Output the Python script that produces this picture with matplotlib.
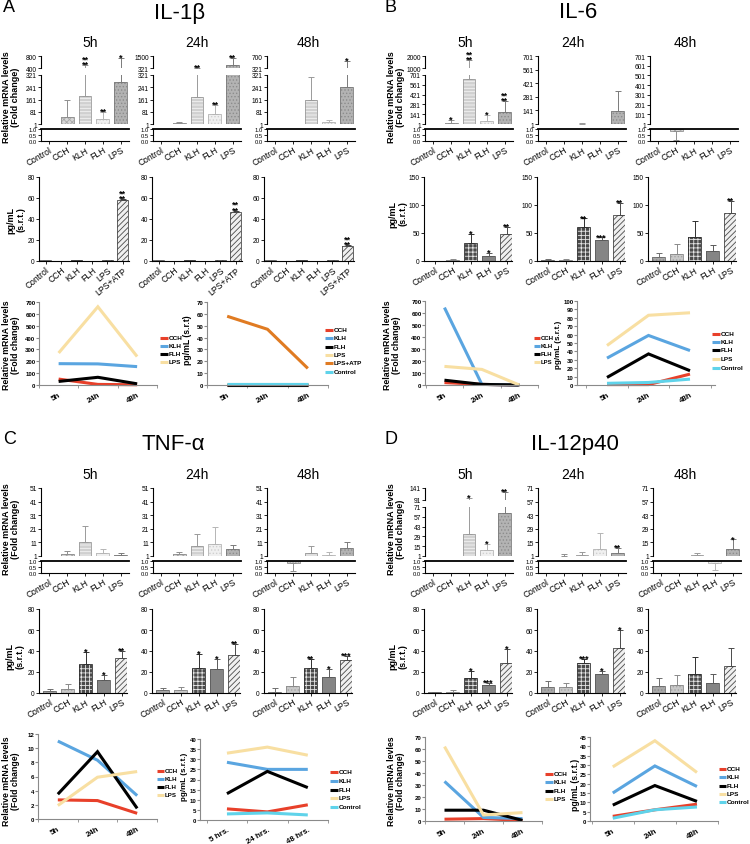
import numpy as np
import matplotlib
matplotlib.use("Agg")
import matplotlib.pyplot as plt

plt.rcParams['font.family'] = ['Liberation Sans', 'DejaVu Sans']
plt.rcParams['hatch.linewidth'] = 0.6

# ---------------- data ----------------
CATS = ["Control", "CCH", "KLH", "FLH", "LPS"]
CATS_ATP = ["Control", "CCH", "KLH", "FLH", "LPS", "LPS+ATP"]
TIMES = ["5h", "24h", "48h"]
TIMES_HRS = ["5 hrs.", "24 hrs.", "48 hrs."]

# ---- IL-1beta mRNA (fold change) ----
IL1B_MRNA_5H = [1, 47, 184, 34, 275]
IL1B_MRNA_5H_ERR = [0, 110, 316, 45, 458]
IL1B_MRNA_5H_SIG = ["", "", "**\n**", "**", "*"]
IL1B_MRNA_24H = [1, 5, 178, 66, 660]
IL1B_MRNA_24H_ERR = [0, 9, 152, 60, 640]
IL1B_MRNA_24H_SIG = ["", "", "**", "**", "**"]
IL1B_MRNA_48H = [1, 3, 160, 14, 245]
IL1B_MRNA_48H_ERR = [0, 0, 145, 13, 297]
IL1B_MRNA_48H_SIG = ["", "", "", "", "*"]
IL1B_MRNA_TICKS = [1, 81, 161, 241, 321]
IL1B_MRNA_TOP_5H = [400, 800]
IL1B_MRNA_TOP_24H = [321, 1500]
IL1B_MRNA_TOP_48H = [321, 700]

# ---- IL-1beta protein (pg/mL) ----
IL1B_PROT_5H = [1, 0.4, 0.5, 0.3, 0.5, 58]
IL1B_PROT_5H_ERR = [0.3, 0, 0, 0, 0, 1]
IL1B_PROT_5H_SIG = ["", "", "", "", "", "**\n**"]
IL1B_PROT_24H = [1, 0.4, 0.5, 0.3, 0.5, 47]
IL1B_PROT_24H_ERR = [0.3, 0, 0, 0, 0, 1]
IL1B_PROT_24H_SIG = ["", "", "", "", "", "**\n**"]
IL1B_PROT_48H = [1, 0.4, 0.5, 0.3, 0.5, 14]
IL1B_PROT_48H_ERR = [0.3, 0, 0, 0, 0, 1]
IL1B_PROT_48H_SIG = ["", "", "", "", "", "**\n**"]
IL1B_PROT_TICKS = [0, 20, 40, 60, 80]

# ---- IL-6 mRNA ----
IL6_MRNA_5H = [1, 20, 645, 40, 166]
IL6_MRNA_5H_ERR = [0, 36, 1020, 84, 164]
IL6_MRNA_5H_SIG = ["", "*", "**\n**", "*", "**\n**"]
IL6_MRNA_24H = [1, 3, 6, 3, 135]
IL6_MRNA_24H_ERR = [0, 0, 4, 0, 210]
IL6_MRNA_24H_SIG = ["", "", "", "", ""]
IL6_MRNA_48H = [1, 0.85, 2, 2, 2]
IL6_MRNA_48H_ERR = [0, 0.75, 0, 0, 0]
IL6_MRNA_48H_SIG = ["", "", "", "", ""]
IL6_MRNA_TICKS = [1, 141, 281, 421, 561, 701]
IL6_MRNA_TICKS_48H = [1, 101, 201, 301, 401, 501, 601, 701]
IL6_MRNA_TOP_5H = [1000, 2000]

# ---- IL-6 protein ----
IL6_PROT_5H = [0.5, 2, 33, 9, 48]
IL6_PROT_5H_ERR = [0.3, 2, 16, 6, 13]
IL6_PROT_5H_SIG = ["", "", "*", "*", "**"]
IL6_PROT_24H = [2, 2, 60, 37, 83]
IL6_PROT_24H_ERR = [1, 1, 16, 5, 21]
IL6_PROT_24H_SIG = ["", "", "**", "***", "**"]
IL6_PROT_48H = [8, 13, 42, 17, 86]
IL6_PROT_48H_ERR = [7, 18, 30, 11, 21]
IL6_PROT_48H_SIG = ["", "", "", "", "**"]
IL6_PROT_TICKS = [0, 50, 100, 150]

# ---- TNF-alpha mRNA ----
TNF_MRNA_5H = [1, 2.7, 11, 3.5, 1.9]
TNF_MRNA_5H_ERR = [0, 2, 12, 2.5, 1.5]
TNF_MRNA_5H_SIG = ["", "", "", "", ""]
TNF_MRNA_24H = [1, 2.6, 8.3, 9.5, 5.9]
TNF_MRNA_24H_ERR = [0, 1.5, 9, 12.5, 3]
TNF_MRNA_24H_SIG = ["", "", "", "", ""]
TNF_MRNA_48H = [1, 0.85, 3.3, 1.5, 6.7]
TNF_MRNA_48H_ERR = [0, 0.65, 5, 2.5, 4.5]
TNF_MRNA_48H_SIG = ["", "", "", "", ""]
TNF_MRNA_TICKS = [1, 11, 21, 31, 41, 51]

# ---- TNF-alpha protein ----
TNF_PROT_5H = [2, 4, 28, 12, 33]
TNF_PROT_5H_ERR = [2, 5, 11, 5, 7]
TNF_PROT_5H_SIG = ["", "", "*", "*", "**"]
TNF_PROT_24H = [3, 3, 24, 23, 36]
TNF_PROT_24H_ERR = [2, 3, 13, 9, 11]
TNF_PROT_24H_SIG = ["", "", "*", "*", "**"]
TNF_PROT_48H = [1, 7, 24, 15, 31]
TNF_PROT_48H_ERR = [4, 8, 8, 8, 4]
TNF_PROT_48H_SIG = ["", "", "**", "*", "***"]
TNF_PROT_TICKS = [0, 20, 40, 60, 80]

# ---- IL-12p40 mRNA ----
IL12_MRNA_5H = [1, 1.5, 33, 9, 62]
IL12_MRNA_5H_ERR = [0, 0, 65, 9, 61]
IL12_MRNA_5H_SIG = ["", "", "*", "*", "**"]
IL12_MRNA_24H = [1, 1.5, 2.5, 8, 4]
IL12_MRNA_24H_ERR = [0, 1.5, 3, 17, 5.5]
IL12_MRNA_24H_SIG = ["", "", "", "", "**"]
IL12_MRNA_48H = [1, 1.2, 2, 0.85, 8]
IL12_MRNA_48H_ERR = [0, 0, 2, 0.6, 10]
IL12_MRNA_48H_SIG = ["", "", "", "", "*"]
IL12_MRNA_TICKS = [1, 15, 29, 43, 57, 71]
IL12_MRNA_TOP_5H = [91, 141]

# ---- IL-12p40 protein ----
IL12_PROT_5H = [0.5, 1, 14.5, 8, 29]
IL12_PROT_5H_ERR = [0.5, 2, 6.5, 1.5, 13]
IL12_PROT_5H_SIG = ["", "", "*", "***", "*"]
IL12_PROT_24H = [6, 6, 29, 18, 43]
IL12_PROT_24H_ERR = [5, 3.5, 3.5, 3, 17]
IL12_PROT_24H_SIG = ["", "", "***", "*", "*"]
IL12_PROT_48H = [7, 8, 18, 9.5, 26]
IL12_PROT_48H_ERR = [7, 9, 16, 8.5, 17]
IL12_PROT_48H_SIG = ["", "", "", "", ""]
IL12_PROT_TICKS = [0, 20, 40, 60, 80]

# ---- time-course lines ----
IL1B_LINE_MRNA_CCH = [50, 5, 2]
IL1B_LINE_MRNA_KLH = [180, 178, 155]
IL1B_LINE_MRNA_FLH = [30, 65, 10]
IL1B_LINE_MRNA_LPS = [270, 660, 240]
IL1B_LINE_PROT_CCH = [0.4, 0.4, 0.4]
IL1B_LINE_PROT_KLH = [0.5, 0.5, 0.5]
IL1B_LINE_PROT_FLH = [0.3, 0.3, 0.3]
IL1B_LINE_PROT_LPS = [0.5, 0.5, 0.5]
IL1B_LINE_PROT_LPSATP = [58, 47, 14]
IL1B_LINE_PROT_CONTROL = [1, 1, 1]

IL6_LINE_MRNA_CCH = [20, 5, 0]
IL6_LINE_MRNA_KLH = [645, 5, 0]
IL6_LINE_MRNA_FLH = [40, 5, 0]
IL6_LINE_MRNA_LPS = [155, 130, 0]
IL6_LINE_PROT_CCH = [0.5, 0.5, 13]
IL6_LINE_PROT_KLH = [32, 59, 41]
IL6_LINE_PROT_FLH = [9, 37, 17]
IL6_LINE_PROT_LPS = [47, 83, 86]
IL6_LINE_PROT_CONTROL = [2, 3, 7]

TNF_LINE_MRNA_CCH = [2.7, 2.6, 0.8]
TNF_LINE_MRNA_KLH = [11, 8.3, 3.3]
TNF_LINE_MRNA_FLH = [3.5, 9.5, 1.5]
TNF_LINE_MRNA_LPS = [1.9, 5.9, 6.7]
TNF_LINE_PROT_CCH = [5.5, 4, 7.5]
TNF_LINE_PROT_KLH = [28.5, 25, 25]
TNF_LINE_PROT_FLH = [13, 24, 16]
TNF_LINE_PROT_LPS = [33, 36, 32]
TNF_LINE_PROT_CONTROL = [3, 3.5, 2.5]

IL12_LINE_MRNA_CCH = [1.5, 2, 0.5]
IL12_LINE_MRNA_KLH = [33, 3, 2]
IL12_LINE_MRNA_FLH = [9, 9, 0.5]
IL12_LINE_MRNA_LPS = [62, 5, 7]
IL12_LINE_PROT_CCH = [2.5, 6, 9]
IL12_LINE_PROT_KLH = [15, 29.5, 18.5]
IL12_LINE_PROT_FLH = [8.5, 19, 10.5]
IL12_LINE_PROT_LPS = [29, 43, 26]
IL12_LINE_PROT_CONTROL = [1.5, 6, 7.5]

# ---------------- styles ----------------
C_CCH, C_KLH, C_FLH = '#e8402a', '#5aa5e0', '#000000'
C_LPS, C_ATP, C_CTRL = '#f8dfa2', '#e07b22', '#5fd3ea'

MR_STYLE = [
    None,
    dict(fc='#d6d6d6', hatch='xxxxxx', hc='#a8a8a8', ec='#8f8f8f'),
    dict(fc='#d0d0d0', hatch='-----', hc='#f4f4f4', ec='#9a9a9a'),
    dict(fc='#f0f0f0', hatch='.....', hc='#d0d0d0', ec='#b5b5b5'),
    dict(fc='#b3b3b3', hatch='.....', hc='#8c8c8c', ec='#7a7a7a'),
]
PR_STYLE = [
    dict(fc='#a8a8a8', hatch='.....', hc='#8a8a8a', ec='#6e6e6e'),
    dict(fc='#c8c8c8', hatch='.....', hc='#a5a5a5', ec='#8a8a8a'),
    dict(fc='#4a4a4a', hatch='++++', hc='#e6e6e6', ec='#303030'),
    dict(fc='#858585', hatch=None, hc=None, ec='#5a5a5a'),
    dict(fc='#f0f0f0', hatch='//////', hc='#4a4a4a', ec='#4a4a4a'),
    dict(fc='#f0f0f0', hatch='//////', hc='#4a4a4a', ec='#4a4a4a'),
]

W, H = 750, 845
fig = plt.figure(figsize=(7.5, 8.45), dpi=100)


def px_ax(left, top, w, h):
    return fig.add_axes([left / W, 1 - (top + h) / H, w / W, h / H])


def style_ax(ax, fs=4.8):
    for s in ['top', 'right']:
        ax.spines[s].set_visible(False)
    for s in ['left', 'bottom']:
        ax.spines[s].set_linewidth(0.8)
    ax.tick_params(axis='both', length=2, width=0.6, pad=1, labelsize=fs, direction='out')
    ax.patch.set_alpha(0)


def draw_bar(ax, x, bottom, height, st, width=0.72):
    if st['hatch']:
        ax.bar(x, height, bottom=bottom, width=width, color=st['fc'],
               edgecolor=st['hc'], hatch=st['hatch'], linewidth=0)
    else:
        ax.bar(x, height, bottom=bottom, width=width, color=st['fc'], linewidth=0)
    ax.bar(x, height, bottom=bottom, width=width, fill=False,
           edgecolor=st['ec'], linewidth=0.6)


def star(ax, x, y, s):
    ax.annotate(s, (x, y), xytext=(0, -2.6), textcoords='offset points',
                ha='center', va='bottom', fontsize=6.5, fontweight='bold',
                linespacing=0.5, annotation_clip=False)


def mrna_panel(left, yoff, vals, errs, sigs, main_ticks, main_top,
               top_ticks=None, top_bottom=None):
    w = 88
    xl = (-0.45, 4.45)
    upper = []
    axm = px_ax(left, yoff + main_top, w, 125 - main_top)
    axm.set_ylim(main_ticks[0], main_ticks[-1])
    axm.set_yticks(main_ticks)
    upper.append(axm)
    axt = None
    if top_ticks is not None:
        axt = px_ax(left, yoff + 57, w, top_bottom - 57)
        axt.set_ylim(top_ticks[0], top_ticks[-1])
        axt.set_yticks(top_ticks)
        upper.append(axt)
    for ax in upper:
        style_ax(ax)
        ax.spines['bottom'].set_visible(False)
        ax.set_xticks([])
        ax.set_xlim(*xl)
    axl = px_ax(left, yoff + 130, w, 12)
    style_ax(axl)
    axl.tick_params(axis='y', labelsize=4.2)
    axl.set_xlim(*xl)
    axl.set_ylim(0, 1)
    axl.set_yticks([0, 0.5, 1.0])
    axl.set_yticklabels(['0.0', '0.5', '1.0'])
    axl.set_xticks(range(5))
    axl.set_xticklabels(CATS, rotation=30, ha='right', rotation_mode='anchor', fontsize=6.2)
    axl.axhline(1.0, color='black', lw=1.3, clip_on=False)
    for i, (v, e, s) in enumerate(zip(vals, errs, sigs)):
        st = MR_STYLE[i]
        if st is None:
            continue
        if v >= 1:
            for ax in upper:
                draw_bar(ax, i, 1, v - 1, st)
                if e > 0:
                    ax.errorbar(i, v, yerr=[[0], [e]], fmt='none', ecolor=st['ec'],
                                elinewidth=0.7, capsize=2.2, capthick=0.7)
            cap = v + e
            tgt = axt if (axt is not None and cap > main_ticks[-1]) else axm
            if s:
                star(tgt, i, cap, s)
        else:
            draw_bar(axl, i, 1, v - 1, st)
            if e > 0:
                axl.errorbar(i, v, yerr=[[e], [0]], fmt='none', ecolor=st['ec'],
                             elinewidth=0.7, capsize=2.2, capthick=0.7)


def prot_panel(left, yoff, vals, errs, sigs, cats, yticks, xrot=30):
    n = len(cats)
    if n == 6:
        w, xl = 90, (-0.45, 5.4)
    else:
        w, xl = 88, (-0.6, 4.3)
    ax = px_ax(left, yoff + 178, w, 84)
    style_ax(ax)
    ax.set_xlim(*xl)
    ax.set_ylim(0, yticks[-1])
    ax.set_yticks(yticks)
    ax.set_xticks(range(n))
    ax.set_xticklabels(cats, rotation=xrot, ha='right', rotation_mode='anchor', fontsize=6.2)
    for i, (v, e, s) in enumerate(zip(vals, errs, sigs)):
        st = PR_STYLE[i]
        draw_bar(ax, i, 0, v, st)
        if e > 0:
            ax.errorbar(i, v, yerr=[[0], [e]], fmt='none', ecolor=st['ec'],
                        elinewidth=0.7, capsize=2.2, capthick=0.7)
        if s:
            star(ax, i, v + e, s)


def line_panel(left, right, top, bottom, p0, p2, series, ymax, ystep, xlabels):
    unit = (p2 - p0) / 2
    ax = px_ax(left, top, right - left, bottom - top)
    ax.set_xlim(-(p0 - left) / unit, 2 + (right - p2) / unit)
    ax.set_ylim(0, ymax)
    ax.set_yticks(np.arange(0, ymax + 1e-9, ystep))
    for s in ['top', 'right']:
        ax.spines[s].set_visible(False)
    for s in ['left', 'bottom']:
        ax.spines[s].set_color('#8a8a8a')
        ax.spines[s].set_linewidth(0.8)
    ax.patch.set_alpha(0)
    for label, vals, color in series:
        ax.plot(range(3), vals, color=color, lw=2.2, solid_capstyle='butt',
                solid_joinstyle='miter', clip_on=False)
    ax.set_xticks(range(3))
    ax.set_xticklabels(xlabels, rotation=30, ha='right', rotation_mode='anchor',
                       fontsize=5.8, fontweight='bold')
    ax.set_xticks([-0.5, 0.5, 1.5, 2.5], minor=True)
    ax.tick_params(axis='x', which='major', length=0, pad=4)
    ax.tick_params(axis='x', which='minor', length=2, color='#8a8a8a')
    ax.tick_params(axis='y', length=2, color='#8a8a8a', labelsize=4.4, pad=0.5)
    for t in ax.get_yticklabels():
        t.set_fontweight('bold')
    return ax


# ---------------- overlay for text ----------------
ov = fig.add_axes([0, 0, 1, 1])
ov.set_xlim(0, W)
ov.set_ylim(H, 0)
ov.axis('off')


def legend(x, ys, items, hl=8, fs=4.6):
    for y, (label, color) in zip(ys, items):
        ov.plot([x, x + hl], [y, y], color=color, lw=2.2, solid_capstyle='butt')
        ov.text(x + hl + 0.5, y, label, va='center', ha='left', fontsize=fs, fontweight='bold')


def headers(xl, yoff, letter, title, tx, tcx):
    ov.text(xl, yoff + 8, letter, fontsize=13, ha='left', va='center')
    ov.text(tcx, yoff + 13, title, fontsize=16, ha='center', va='center')
    for x, t in zip(tx, TIMES):
        ov.text(x, yoff + 43, t, fontsize=10, ha='center', va='center')


MRNA_LAB = "Relative mRNA levels\n(Fold change)"
PROT_LAB = "pg/mL\n(s.r.t.)"
YO = 432
LX_AC = [41, 153, 267]
LX_BD = [425, 538, 650]
PX_AC = [39, 152, 264]
PX_BD = [424, 537, 648]

# ===== A: IL-1beta =====
headers(3, 0, "A", "IL-1β", [90, 197, 308], 180)
mrna_panel(LX_AC[0], 0, IL1B_MRNA_5H, IL1B_MRNA_5H_ERR, IL1B_MRNA_5H_SIG,
           IL1B_MRNA_TICKS, 76, IL1B_MRNA_TOP_5H, 69)
mrna_panel(LX_AC[1], 0, IL1B_MRNA_24H, IL1B_MRNA_24H_ERR, IL1B_MRNA_24H_SIG,
           IL1B_MRNA_TICKS, 76, IL1B_MRNA_TOP_24H, 69)
mrna_panel(LX_AC[2], 0, IL1B_MRNA_48H, IL1B_MRNA_48H_ERR, IL1B_MRNA_48H_SIG,
           IL1B_MRNA_TICKS, 76, IL1B_MRNA_TOP_48H, 69)
prot_panel(PX_AC[0], 0, IL1B_PROT_5H, IL1B_PROT_5H_ERR, IL1B_PROT_5H_SIG, CATS_ATP, IL1B_PROT_TICKS, 40)
prot_panel(PX_AC[1], 0, IL1B_PROT_24H, IL1B_PROT_24H_ERR, IL1B_PROT_24H_SIG, CATS_ATP, IL1B_PROT_TICKS, 40)
prot_panel(PX_AC[2], 0, IL1B_PROT_48H, IL1B_PROT_48H_ERR, IL1B_PROT_48H_SIG, CATS_ATP, IL1B_PROT_TICKS, 40)
line_panel(39, 157, 303, 386, 58, 137,
           [("CCH", IL1B_LINE_MRNA_CCH, C_CCH), ("KLH", IL1B_LINE_MRNA_KLH, C_KLH),
            ("FLH", IL1B_LINE_MRNA_FLH, C_FLH), ("LPS", IL1B_LINE_MRNA_LPS, C_LPS)],
           700, 100, TIMES)
line_panel(207, 328, 303, 386, 227, 308,
           [("CCH", IL1B_LINE_PROT_CCH, C_CCH), ("KLH", IL1B_LINE_PROT_KLH, C_KLH),
            ("FLH", IL1B_LINE_PROT_FLH, C_FLH), ("LPS", IL1B_LINE_PROT_LPS, C_LPS),
            ("LPS+ATP", IL1B_LINE_PROT_LPSATP, C_ATP), ("Control", IL1B_LINE_PROT_CONTROL, C_CTRL)],
           70, 10, TIMES)
legend(160, [339, 347, 355, 363], [("CCH", C_CCH), ("KLH", C_KLH), ("FLH", C_FLH), ("LPS", C_LPS)])
legend(325, [331, 339, 348, 356, 364, 373],
       [("CCH", C_CCH), ("KLH", C_KLH), ("FLH", C_FLH), ("LPS", C_LPS), ("LPS+ATP", C_ATP), ("Control", C_CTRL)])
ov.text(11, 97, MRNA_LAB, rotation=90, ha='center', va='center', fontsize=6.5, fontweight='bold', linespacing=1.1)
ov.text(16, 220, PROT_LAB, rotation=90, ha='center', va='center', fontsize=6.5, fontweight='bold', linespacing=1.1)
ov.text(11, 345, MRNA_LAB, rotation=90, ha='center', va='center', fontsize=6.3, fontweight='bold', linespacing=1.1)
ov.text(188, 340, "pg/mL (s.r.t)", rotation=90, ha='center', va='center', fontsize=6.2, fontweight='bold')

# ===== B: IL-6 =====
headers(384, 0, "B", "IL-6", [465, 573, 685], 578)
mrna_panel(LX_BD[0], 0, IL6_MRNA_5H, IL6_MRNA_5H_ERR, IL6_MRNA_5H_SIG,
           IL6_MRNA_TICKS, 76, IL6_MRNA_TOP_5H, 69)
mrna_panel(LX_BD[1], 0, IL6_MRNA_24H, IL6_MRNA_24H_ERR, IL6_MRNA_24H_SIG,
           IL6_MRNA_TICKS, 57)
mrna_panel(LX_BD[2], 0, IL6_MRNA_48H, IL6_MRNA_48H_ERR, IL6_MRNA_48H_SIG,
           IL6_MRNA_TICKS_48H, 57)
prot_panel(PX_BD[0], 0, IL6_PROT_5H, IL6_PROT_5H_ERR, IL6_PROT_5H_SIG, CATS, IL6_PROT_TICKS)
prot_panel(PX_BD[1], 0, IL6_PROT_24H, IL6_PROT_24H_ERR, IL6_PROT_24H_SIG, CATS, IL6_PROT_TICKS)
prot_panel(PX_BD[2], 0, IL6_PROT_48H, IL6_PROT_48H_ERR, IL6_PROT_48H_SIG, CATS, IL6_PROT_TICKS)
line_panel(425, 538, 302, 386, 445, 522,
           [("CCH", IL6_LINE_MRNA_CCH, C_CCH), ("KLH", IL6_LINE_MRNA_KLH, C_KLH),
            ("FLH", IL6_LINE_MRNA_FLH, C_FLH), ("LPS", IL6_LINE_MRNA_LPS, C_LPS)],
           700, 100, TIMES)
line_panel(577, 715, 302, 386, 607, 690,
           [("CCH", IL6_LINE_PROT_CCH, C_CCH), ("KLH", IL6_LINE_PROT_KLH, C_KLH),
            ("FLH", IL6_LINE_PROT_FLH, C_FLH), ("LPS", IL6_LINE_PROT_LPS, C_LPS),
            ("Control", IL6_LINE_PROT_CONTROL, C_CTRL)],
           100, 10, TIMES)
legend(534, [339, 347, 355, 363], [("CCH", C_CCH), ("KLH", C_KLH), ("FLH", C_FLH), ("LPS", C_LPS)],
       hl=6, fs=4.3)
legend(712, [335, 343, 351, 360, 369],
       [("CCH", C_CCH), ("KLH", C_KLH), ("FLH", C_FLH), ("LPS", C_LPS), ("Control", C_CTRL)])
ov.text(396, 97, MRNA_LAB, rotation=90, ha='center', va='center', fontsize=6.5, fontweight='bold', linespacing=1.1)
ov.text(398, 214, PROT_LAB, rotation=90, ha='center', va='center', fontsize=6.5, fontweight='bold', linespacing=1.1)
ov.text(392, 345, MRNA_LAB, rotation=90, ha='center', va='center', fontsize=6.3, fontweight='bold', linespacing=1.1)
ov.text(559, 345, "pg/mL (s.r.t.)", rotation=90, ha='center', va='center', fontsize=5.8, fontweight='bold')

# ===== C: TNF-alpha =====
headers(3, YO, "C", "TNF-α", [90, 197, 308], 173)
mrna_panel(LX_AC[0], YO, TNF_MRNA_5H, TNF_MRNA_5H_ERR, TNF_MRNA_5H_SIG, TNF_MRNA_TICKS, 57)
mrna_panel(LX_AC[1], YO, TNF_MRNA_24H, TNF_MRNA_24H_ERR, TNF_MRNA_24H_SIG, TNF_MRNA_TICKS, 57)
mrna_panel(LX_AC[2], YO, TNF_MRNA_48H, TNF_MRNA_48H_ERR, TNF_MRNA_48H_SIG, TNF_MRNA_TICKS, 57)
prot_panel(PX_AC[0], YO, TNF_PROT_5H, TNF_PROT_5H_ERR, TNF_PROT_5H_SIG, CATS, TNF_PROT_TICKS)
prot_panel(PX_AC[1], YO, TNF_PROT_24H, TNF_PROT_24H_ERR, TNF_PROT_24H_SIG, CATS, TNF_PROT_TICKS)
prot_panel(PX_AC[2], YO, TNF_PROT_48H, TNF_PROT_48H_ERR, TNF_PROT_48H_SIG, CATS, TNF_PROT_TICKS)
line_panel(38, 157, 735, 820, 57, 137,
           [("CCH", TNF_LINE_MRNA_CCH, C_CCH), ("KLH", TNF_LINE_MRNA_KLH, C_KLH),
            ("FLH", TNF_LINE_MRNA_FLH, C_FLH), ("LPS", TNF_LINE_MRNA_LPS, C_LPS)],
           12, 2, TIMES)
line_panel(200, 328, 740, 821, 227, 308,
           [("CCH", TNF_LINE_PROT_CCH, C_CCH), ("KLH", TNF_LINE_PROT_KLH, C_KLH),
            ("FLH", TNF_LINE_PROT_FLH, C_FLH), ("LPS", TNF_LINE_PROT_LPS, C_LPS),
            ("Control", TNF_LINE_PROT_CONTROL, C_CTRL)],
           40, 5, TIMES_HRS)
legend(157, [772, 780, 788, 796], [("CCH", C_CCH), ("KLH", C_KLH), ("FLH", C_FLH), ("LPS", C_LPS)],
       hl=7, fs=4.4)
legend(330, [773, 782, 791, 799, 808],
       [("CCH", C_CCH), ("KLH", C_KLH), ("FLH", C_FLH), ("LPS", C_LPS), ("Control", C_CTRL)])
ov.text(11, 97 + YO, MRNA_LAB, rotation=90, ha='center', va='center', fontsize=6.5, fontweight='bold', linespacing=1.1)
ov.text(15, 657, PROT_LAB, rotation=90, ha='center', va='center', fontsize=6.5, fontweight='bold', linespacing=1.1)
ov.text(11, 781, MRNA_LAB, rotation=90, ha='center', va='center', fontsize=6.3, fontweight='bold', linespacing=1.1)
ov.text(185, 777, "pg/mL (s.r.t.)", rotation=90, ha='center', va='center', fontsize=5.8, fontweight='bold')

# ===== D: IL-12p40 =====
headers(384, YO, "D", "IL-12p40", [465, 573, 685], 575)
mrna_panel(LX_BD[0], YO, IL12_MRNA_5H, IL12_MRNA_5H_ERR, IL12_MRNA_5H_SIG,
           IL12_MRNA_TICKS, 76, IL12_MRNA_TOP_5H, 69)
mrna_panel(LX_BD[1], YO, IL12_MRNA_24H, IL12_MRNA_24H_ERR, IL12_MRNA_24H_SIG, IL12_MRNA_TICKS, 57)
mrna_panel(LX_BD[2] + 3, YO, IL12_MRNA_48H, IL12_MRNA_48H_ERR, IL12_MRNA_48H_SIG, IL12_MRNA_TICKS, 57)
prot_panel(PX_BD[0], YO, IL12_PROT_5H, IL12_PROT_5H_ERR, IL12_PROT_5H_SIG, CATS, IL12_PROT_TICKS)
prot_panel(PX_BD[1], YO, IL12_PROT_24H, IL12_PROT_24H_ERR, IL12_PROT_24H_SIG, CATS, IL12_PROT_TICKS)
prot_panel(PX_BD[2], YO, IL12_PROT_48H, IL12_PROT_48H_ERR, IL12_PROT_48H_SIG, CATS, IL12_PROT_TICKS)
line_panel(425, 542, 738, 822, 443, 523,
           [("CCH", IL12_LINE_MRNA_CCH, C_CCH), ("KLH", IL12_LINE_MRNA_KLH, C_KLH),
            ("FLH", IL12_LINE_MRNA_FLH, C_FLH), ("LPS", IL12_LINE_MRNA_LPS, C_LPS)],
           70, 10, TIMES)
line_panel(590, 718, 738, 822, 613, 698,
           [("CCH", IL12_LINE_PROT_CCH, C_CCH), ("KLH", IL12_LINE_PROT_KLH, C_KLH),
            ("FLH", IL12_LINE_PROT_FLH, C_FLH), ("LPS", IL12_LINE_PROT_LPS, C_LPS),
            ("Control", IL12_LINE_PROT_CONTROL, C_CTRL)],
           45, 5, TIMES)
legend(545, [775, 783, 792, 800], [("CCH", C_CCH), ("KLH", C_KLH), ("FLH", C_FLH), ("LPS", C_LPS)])
legend(719, [770, 778, 787, 795, 803],
       [("CCH", C_CCH), ("KLH", C_KLH), ("FLH", C_FLH), ("LPS", C_LPS), ("Control", C_CTRL)], hl=7)
ov.text(396, 97 + YO, MRNA_LAB, rotation=90, ha='center', va='center', fontsize=6.5, fontweight='bold', linespacing=1.1)
ov.text(398, 657, PROT_LAB, rotation=90, ha='center', va='center', fontsize=6.5, fontweight='bold', linespacing=1.1)
ov.text(396, 781, "Relative mRNA levles\n(Fold change)", rotation=90, ha='center', va='center',
        fontsize=6.3, fontweight='bold', linespacing=1.1)
ov.text(575, 785, "pg/mL (s.r.t.)", rotation=90, ha='center', va='center', fontsize=6.2, fontweight='bold')

fig.savefig("out.png", dpi=100)
